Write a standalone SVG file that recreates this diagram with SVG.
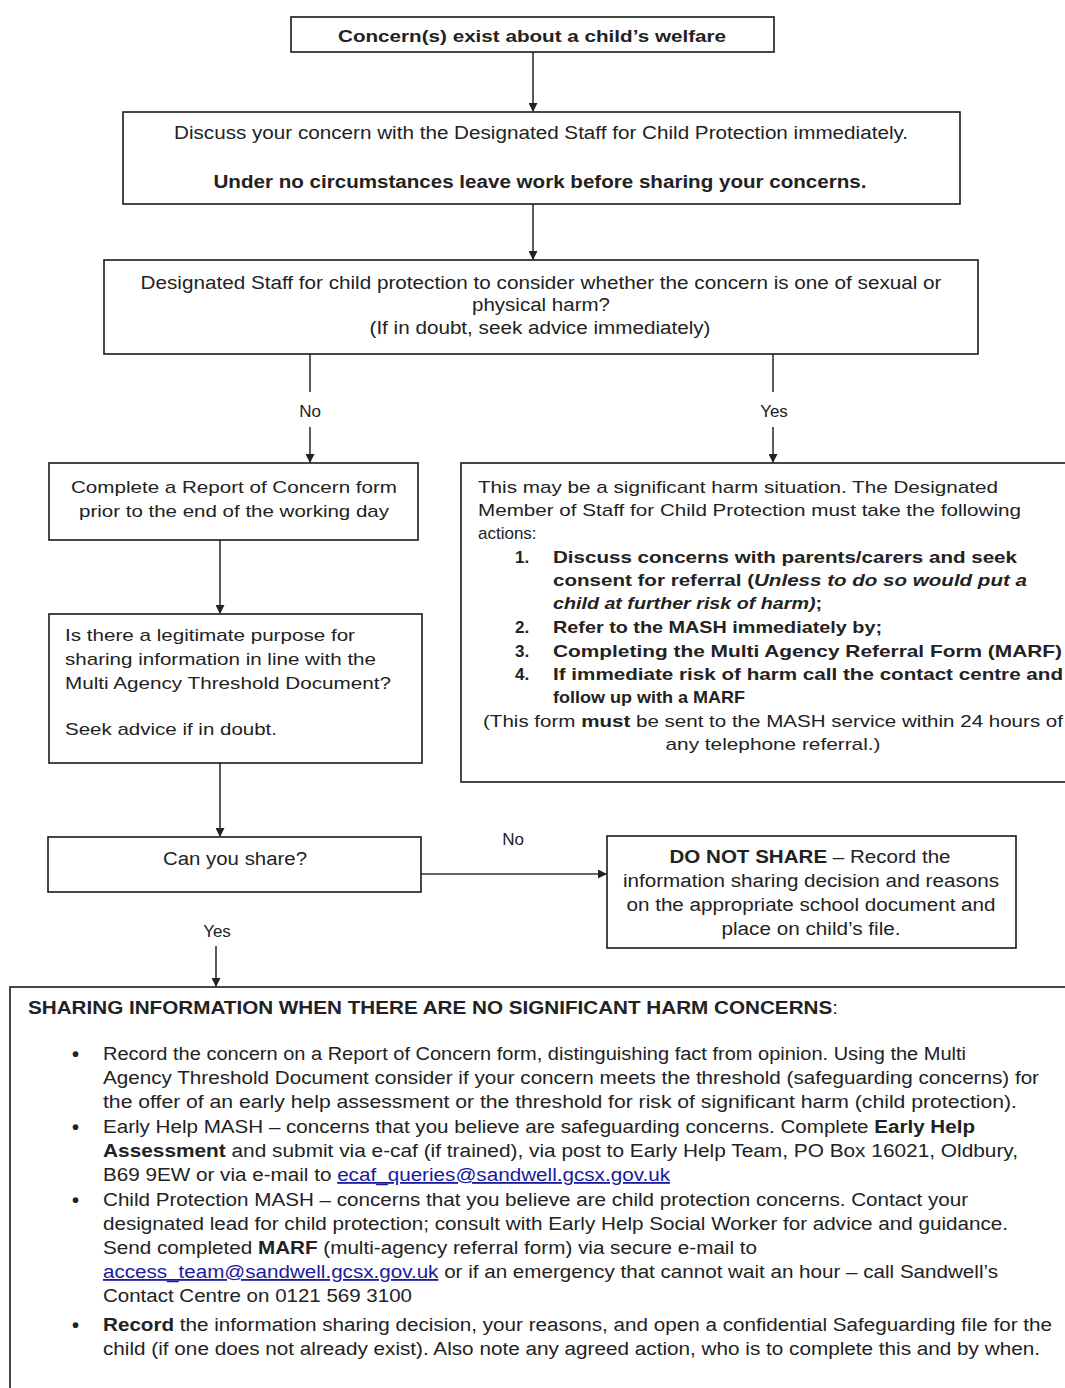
<svg xmlns="http://www.w3.org/2000/svg" width="1065" height="1388" viewBox="0 0 1065 1388">
<style>
.box{fill:#fff;stroke:#1a1a1a;stroke-width:1.6}
.con{stroke:#333;stroke-width:1.6;fill:none}
text{font-family:'Liberation Sans',Arial,sans-serif;font-size:17px;fill:#222}
.n{font-family:'Liberation Sans Narrow','Arial Narrow','Liberation Sans',Arial,sans-serif;font-size:18px}
.b{font-weight:bold}
.i{font-style:italic}
.c{text-anchor:middle}
.bul{font-size:20px;font-weight:bold}
.lnk{fill:#1a1aa0;text-decoration:underline}
</style>
<defs>
<marker id="ah" markerWidth="9" markerHeight="9" refX="8" refY="4.5" orient="auto" markerUnits="userSpaceOnUse">
<path d="M0,0 L9,4.5 L0,9 z" fill="#222"/>
</marker>
</defs>
<rect width="1065" height="1388" fill="#fff"/>
<g id="connectors">
<line class="con" x1="533" y1="52" x2="533" y2="111" marker-end="url(#ah)"/>
<line class="con" x1="533" y1="204" x2="533" y2="259" marker-end="url(#ah)"/>
<line class="con" x1="310" y1="354" x2="310" y2="392"/>
<line class="con" x1="310" y1="427" x2="310" y2="462" marker-end="url(#ah)"/>
<text x="310" y="417" class="c">No</text>
<line class="con" x1="773" y1="354" x2="773" y2="392"/>
<line class="con" x1="773" y1="427" x2="773" y2="462" marker-end="url(#ah)"/>
<text x="774" y="417" class="c">Yes</text>
<line class="con" x1="220" y1="540" x2="220" y2="613" marker-end="url(#ah)"/>
<line class="con" x1="220" y1="763" x2="220" y2="836" marker-end="url(#ah)"/>
<line class="con" x1="421" y1="874" x2="606" y2="874" stroke-width="2" marker-end="url(#ah)"/>
<text x="513" y="845" class="c">No</text>
<text x="217" y="937" class="c">Yes</text>
<line class="con" x1="216" y1="946" x2="216" y2="986" marker-end="url(#ah)"/>
</g>
<g id="n1">
<rect class="box" x="291" y="17" width="483" height="35"/>
<text x="532" y="42" class="c b" textLength="388" lengthAdjust="spacingAndGlyphs">Concern(s) exist about a child’s welfare</text>
</g>
<g id="n2">
<rect class="box" x="123" y="112" width="837" height="92"/>
<text x="541" y="139" class="n c" textLength="734" lengthAdjust="spacingAndGlyphs">Discuss your concern with the Designated Staff for Child Protection immediately.</text>
<text x="540" y="188" class="n c b" textLength="653" lengthAdjust="spacingAndGlyphs">Under no circumstances leave work before sharing your concerns.</text>
</g>
<g id="n3">
<rect class="box" x="104" y="260" width="874" height="94"/>
<text x="541" y="289" class="n c" textLength="801" lengthAdjust="spacingAndGlyphs">Designated Staff for child protection to consider whether the concern is one of sexual or</text>
<text x="541" y="311" class="n c" textLength="138" lengthAdjust="spacingAndGlyphs">physical harm?</text>
<text x="540" y="334" class="n c" textLength="341" lengthAdjust="spacingAndGlyphs">(If in doubt, seek advice immediately)</text>
</g>
<g id="n4">
<rect class="box" x="49" y="463" width="369" height="77"/>
<text x="234" y="493" class="c" textLength="326" lengthAdjust="spacingAndGlyphs">Complete a Report of Concern form</text>
<text x="234" y="517" class="c" textLength="310" lengthAdjust="spacingAndGlyphs">prior to the end of the working day</text>
</g>
<g id="n5">
<rect class="box" x="461" y="463" width="610" height="319"/>
<text x="478" y="493" textLength="520" lengthAdjust="spacingAndGlyphs">This may be a significant harm situation. The Designated</text>
<text x="478" y="516" textLength="543" lengthAdjust="spacingAndGlyphs">Member of Staff for Child Protection must take the following</text>
<text x="478" y="539">actions:</text>
<text x="515" y="563" class="b">1.</text>
<text x="553" y="563" class="b" textLength="464" lengthAdjust="spacingAndGlyphs">Discuss concerns with parents/carers and seek</text>
<text x="553" y="586" class="b" textLength="474" lengthAdjust="spacingAndGlyphs">consent for referral (<tspan class="i">Unless to do so would put a</tspan></text>
<text x="553" y="609" class="b" textLength="269" lengthAdjust="spacingAndGlyphs"><tspan class="i">child at further risk of harm)</tspan>;</text>
<text x="515" y="633" class="b">2.</text>
<text x="553" y="633" class="b" textLength="329" lengthAdjust="spacingAndGlyphs">Refer to the MASH immediately by;</text>
<text x="515" y="657" class="b">3.</text>
<text x="553" y="657" class="b" textLength="509" lengthAdjust="spacingAndGlyphs">Completing the Multi Agency Referral Form (MARF)</text>
<text x="515" y="680" class="b">4.</text>
<text x="553" y="680" class="b" textLength="510" lengthAdjust="spacingAndGlyphs">If immediate risk of harm call the contact centre and</text>
<text x="553" y="703" class="b" textLength="192" lengthAdjust="spacingAndGlyphs">follow up with a MARF</text>
<text x="483" y="727" textLength="580" lengthAdjust="spacingAndGlyphs">(This form <tspan class="b">must</tspan> be sent to the MASH service within 24 hours of</text>
<text x="773" y="750" class="c" textLength="215" lengthAdjust="spacingAndGlyphs">any telephone referral.)</text>
</g>
<g id="n6">
<rect class="box" x="49" y="614" width="373" height="149"/>
<text x="65" y="641" textLength="290" lengthAdjust="spacingAndGlyphs">Is there a legitimate purpose for</text>
<text x="65" y="665" textLength="311" lengthAdjust="spacingAndGlyphs">sharing information in line with the</text>
<text x="65" y="689" textLength="326" lengthAdjust="spacingAndGlyphs">Multi Agency Threshold Document?</text>
<text x="65" y="735" textLength="212" lengthAdjust="spacingAndGlyphs">Seek advice if in doubt.</text>
</g>
<g id="n7">
<rect class="box" x="48" y="837" width="373" height="55"/>
<text x="235" y="865" class="n c" textLength="144" lengthAdjust="spacingAndGlyphs">Can you share?</text>
</g>
<g id="n8">
<rect class="box" x="607" y="836" width="409" height="112"/>
<text x="810" y="863" class="n c" textLength="281" lengthAdjust="spacingAndGlyphs"><tspan class="b">DO NOT SHARE</tspan> – Record the</text>
<text x="811" y="887" class="n c" textLength="376" lengthAdjust="spacingAndGlyphs">information sharing decision and reasons</text>
<text x="811" y="911" class="n c" textLength="369" lengthAdjust="spacingAndGlyphs">on the appropriate school document and</text>
<text x="811" y="935" class="n c" textLength="179" lengthAdjust="spacingAndGlyphs">place on child’s file.</text>
</g>
<g id="n9">
<rect class="box" x="10" y="987" width="1070" height="420"/>
<text x="28" y="1014" class="n b" textLength="810" lengthAdjust="spacingAndGlyphs">SHARING INFORMATION WHEN THERE ARE NO SIGNIFICANT HARM CONCERNS<tspan font-weight="normal">:</tspan></text>
<text x="72" y="1061" class="bul">•</text>
<text x="103" y="1060" class="n" textLength="863" lengthAdjust="spacingAndGlyphs">Record the concern on a Report of Concern form, distinguishing fact from opinion. Using the Multi</text>
<text x="103" y="1084" class="n" textLength="936" lengthAdjust="spacingAndGlyphs">Agency Threshold Document consider if your concern meets the threshold (safeguarding concerns) for</text>
<text x="103" y="1108" class="n" textLength="914" lengthAdjust="spacingAndGlyphs">the offer of an early help assessment or the threshold for risk of significant harm (child protection).</text>
<text x="72" y="1134" class="bul">•</text>
<text x="103" y="1133" class="n" textLength="872" lengthAdjust="spacingAndGlyphs">Early Help MASH – concerns that you believe are safeguarding concerns. Complete <tspan class="b">Early Help</tspan></text>
<text x="103" y="1157" class="n" textLength="915" lengthAdjust="spacingAndGlyphs"><tspan class="b">Assessment</tspan>  and submit via e-caf (if trained), via post to Early Help Team, PO Box 16021, Oldbury,</text>
<text x="103" y="1181" class="n" textLength="567" lengthAdjust="spacingAndGlyphs">B69 9EW or via e-mail to <tspan class="lnk">ecaf_queries@sandwell.gcsx.gov.uk</tspan></text>
<text x="72" y="1207" class="bul">•</text>
<text x="103" y="1206" class="n" textLength="865" lengthAdjust="spacingAndGlyphs">Child Protection MASH – concerns that you believe are child protection concerns. Contact your</text>
<text x="103" y="1230" class="n" textLength="905" lengthAdjust="spacingAndGlyphs">designated lead for child protection; consult with Early Help Social Worker for advice and guidance.</text>
<text x="103" y="1254" class="n" textLength="654" lengthAdjust="spacingAndGlyphs">Send completed <tspan class="b">MARF</tspan> (multi-agency referral form) via secure e-mail to</text>
<text x="103" y="1278" class="n" textLength="895" lengthAdjust="spacingAndGlyphs"><tspan class="lnk">access_team@sandwell.gcsx.gov.uk</tspan> or if an emergency that cannot wait an hour – call Sandwell’s</text>
<text x="103" y="1302" class="n" textLength="309" lengthAdjust="spacingAndGlyphs">Contact Centre on 0121 569 3100</text>
<text x="72" y="1332" class="bul">•</text>
<text x="103" y="1331" class="n" textLength="949" lengthAdjust="spacingAndGlyphs"><tspan class="b">Record</tspan> the information sharing decision, your reasons, and open a confidential Safeguarding file for the</text>
<text x="103" y="1355" class="n" textLength="937" lengthAdjust="spacingAndGlyphs">child (if one does not already exist). Also note any agreed action, who is to complete this and by when.</text>
</g>
</svg>
